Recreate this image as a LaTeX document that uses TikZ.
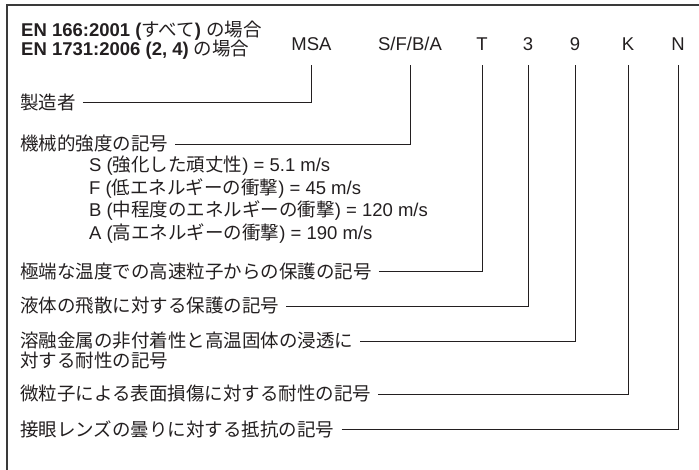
\documentclass[tikz,border=0pt]{standalone}
\usepackage{fontspec}
\setmainfont{Liberation Sans}
\newfontfamily\jp{Noto Sans CJK JP}
\newcommand\J[1]{{\jp\mdseries #1}}
\definecolor{ink}{HTML}{231F20}
\definecolor{framec}{HTML}{3A3A3A}
\begin{document}
\begin{tikzpicture}[x=1pt,y=-1pt,
  every node/.style={inner sep=0pt, text=ink, font=\fontsize{18.5}{20}\selectfont},
  lbl/.style={anchor=west},
  code/.style={anchor=base},
  conn/.style={draw=ink, line width=0.9pt},
  gap/.style={xshift=7pt}]
\useasboundingbox (0,0) rectangle (699,470);
\draw[line width=1.6pt, draw=framec] (7,471) -- (7,5) -- (700,5);

\node[anchor=base west] (t1) at (21,37) {\bfseries EN 166:2001 (\J{すべて}) \J{の場合}};
\node[anchor=base west] (t2) at (21,56) {\bfseries EN 1731:2006 (2, 4) \J{の場合}};

\node[code] (msa) at (311.5,51) {MSA};
\node[code] (sfba) at (410,51) {S/F/B/A};
\node[code] (cT) at (482,51) {T};
\node[code] (c3) at (528,51) {3};
\node[code] (c9) at (575,51) {9};
\node[code] (cK) at (628,51) {K};
\node[code] (cN) at (678,51) {N};

\node[lbl] (mfr) at (20,102) {\J{製造者}};
\node[lbl] (mech) at (20,144) {\J{機械的強度の記号}};
\node[lbl] (rs) at (89,166) {S (\J{強化した頑丈性}) = 5.1 m/s};
\node[lbl] (rf) at (89,189) {F (\J{低エネルギーの衝撃}) = 45 m/s};
\node[lbl] (rb) at (89,211) {B (\J{中程度のエネルギーの衝撃}) = 120 m/s};
\node[lbl] (ra) at (89,234) {A (\J{高エネルギーの衝撃}) = 190 m/s};
\node[lbl] (temp) at (20,271) {\J{極端な温度での高速粒子からの保護の記号}};
\node[lbl] (liq) at (20,306) {\J{液体の飛散に対する保護の記号}};
\node[lbl] (melt) at (20,341) {\J{溶融金属の非付着性と高温固体の浸透に}};
\node[lbl] (melt2) at (20,360) {\J{対する耐性の記号}};
\node[lbl] (part) at (20,394) {\J{微粒子による表面損傷に対する耐性の記号}};
\node[lbl] (fog) at (20,429) {\J{接眼レンズの曇りに対する抵抗の記号}};

\draw[conn] ([gap]mfr.east) -| ([yshift=-14pt]msa.base);
\draw[conn] ([gap]mech.east) -| ([yshift=-14pt]sfba.base);
\draw[conn] ([gap]temp.east) -| ([yshift=-14pt]cT.base);
\draw[conn] ([gap]liq.east) -| ([yshift=-14pt]c3.base);
\draw[conn] ([gap]melt.east) -| ([yshift=-14pt]c9.base);
\draw[conn] ([gap]part.east) -| ([yshift=-14pt]cK.base);
\draw[conn] ([gap]fog.east) -| ([yshift=-14pt]cN.base);
\end{tikzpicture}
\end{document}
